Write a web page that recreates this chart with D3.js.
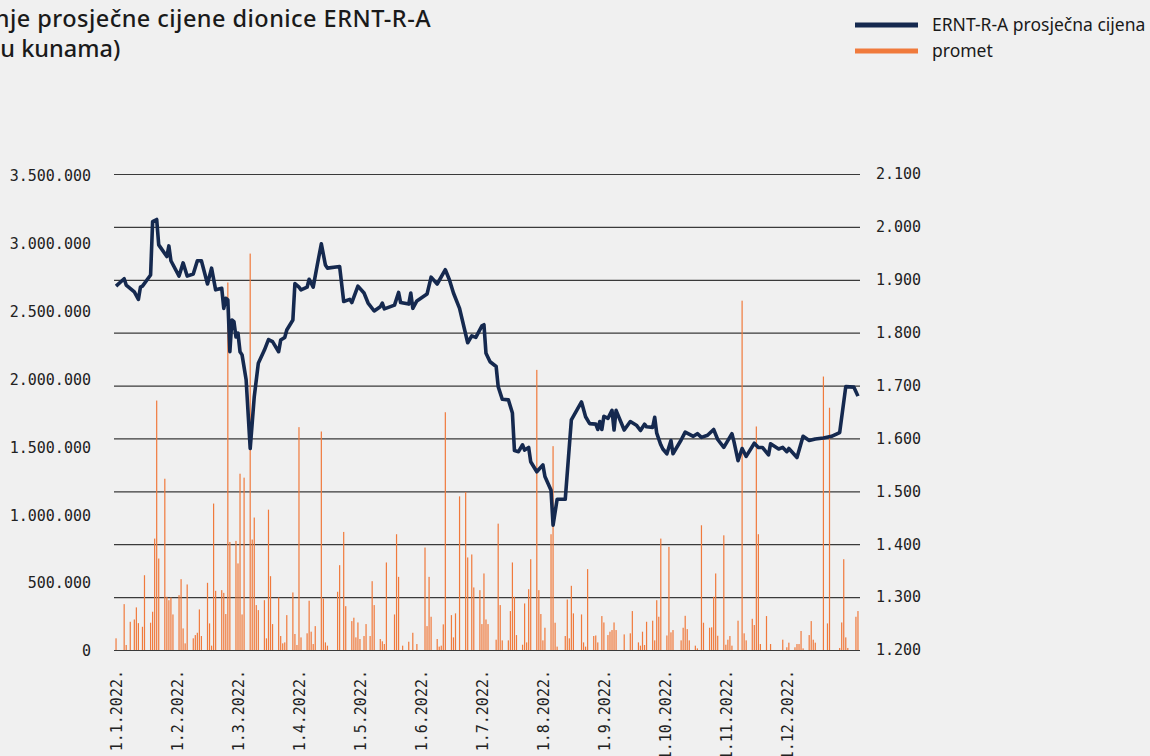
<!DOCTYPE html>
<html>
<head>
<meta charset="utf-8">
<script src="https://cdn.jsdelivr.net/npm/d3@7"></script>
<style>
  body { margin: 0; background: #f0f0f0; }
  svg { display: block; }
</style>
</head>
<body>
<div id="chart"></div>
<script>
// day index: 0 = 1.1.2022.
var monthLabels = ["1.1.2022.", "1.2.2022.", "1.3.2022.", "1.4.2022.", "1.5.2022.", "1.6.2022.",
  "1.7.2022.", "1.8.2022.", "1.9.2022.", "1.10.2022.", "1.11.2022.", "1.12.2022."];
var leftTicks = [0, 500000, 1000000, 1500000, 2000000, 2500000, 3000000, 3500000];
var rightTicks = [1200, 1300, 1400, 1500, 1600, 1700, 1800, 1900, 2000, 2100];

// ERNT-R-A prosjecna cijena
var priceDays = [0, 4, 5, 9, 11, 12, 13, 17, 18, 20, 21, 25, 26, 27, 31, 33, 35, 38, 40, 42, 45, 47, 49, 52, 53, 54, 55, 56, 57, 58, 59, 60, 61, 62, 64, 66, 68, 70, 73, 75, 77, 80, 81, 83, 84, 87, 88, 90, 91, 94, 95, 97, 99, 101, 103, 104, 110, 112, 115, 116, 119, 122, 124, 127, 130, 131, 132, 137, 139, 140, 144, 145, 146, 148, 153, 155, 158, 162, 164, 166, 169, 173, 175, 177, 180, 181, 182, 184, 187, 188, 190, 193, 195, 196, 198, 200, 201, 203, 204, 207, 210, 211, 214, 215, 217, 221, 224, 229, 231, 233, 236, 237, 238, 239, 240, 242, 244, 245, 246, 250, 253, 256, 258, 260, 261, 264, 265, 266, 268, 269, 271, 273, 274, 278, 280, 284, 286, 288, 291, 294, 296, 299, 303, 304, 306, 308, 310, 314, 316, 318, 321, 322, 326, 328, 330, 331, 335, 338, 341, 344, 348, 352, 356, 359, 363, 365];
var priceValues = [1888, 1902, 1890, 1877, 1863, 1886, 1888, 1909, 2010, 2014, 1966, 1944, 1964, 1936, 1907, 1932, 1907, 1911, 1936, 1936, 1892, 1922, 1881, 1884, 1846, 1865, 1862, 1764, 1824, 1821, 1792, 1799, 1764, 1758, 1711, 1581, 1679, 1742, 1767, 1787, 1783, 1764, 1786, 1791, 1805, 1824, 1893, 1886, 1881, 1886, 1901, 1886, 1928, 1968, 1928, 1922, 1925, 1859, 1863, 1857, 1888, 1875, 1856, 1841, 1849, 1856, 1845, 1852, 1876, 1857, 1854, 1875, 1846, 1860, 1873, 1905, 1892, 1919, 1900, 1875, 1846, 1781, 1794, 1791, 1813, 1815, 1761, 1745, 1736, 1698, 1674, 1673, 1648, 1577, 1575, 1588, 1578, 1583, 1556, 1537, 1550, 1528, 1502, 1436, 1485, 1485, 1635, 1669, 1641, 1628, 1627, 1617, 1632, 1617, 1642, 1638, 1653, 1616, 1653, 1616, 1632, 1625, 1615, 1627, 1622, 1621, 1640, 1610, 1588, 1580, 1571, 1596, 1571, 1597, 1612, 1604, 1609, 1602, 1606, 1617, 1598, 1583, 1609, 1594, 1558, 1581, 1566, 1591, 1583, 1583, 1569, 1590, 1580, 1583, 1575, 1581, 1564, 1604, 1596, 1599, 1601, 1604, 1611, 1698, 1697, 1680];

// promet (kn)
var turnoverDays = [0, 4, 5, 7, 9, 10, 11, 13, 14, 17, 18, 19, 20, 21, 24, 25, 26, 27, 28, 31, 32, 33, 34, 35, 38, 39, 40, 41, 42, 45, 46, 47, 48, 49, 52, 53, 54, 55, 56, 59, 60, 61, 62, 63, 66, 67, 68, 69, 70, 73, 74, 75, 76, 77, 80, 81, 82, 83, 84, 87, 88, 89, 90, 91, 94, 95, 96, 97, 98, 101, 102, 103, 104, 109, 110, 112, 113, 116, 117, 118, 119, 120, 122, 123, 125, 126, 127, 130, 131, 132, 133, 137, 138, 139, 141, 144, 146, 148, 152, 153, 154, 155, 158, 159, 160, 161, 162, 165, 166, 167, 169, 172, 173, 175, 176, 179, 180, 181, 182, 183, 187, 188, 189, 190, 193, 194, 195, 196, 197, 200, 201, 202, 203, 204, 207, 208, 209, 210, 211, 214, 215, 216, 217, 221, 222, 223, 224, 225, 229, 230, 231, 232, 235, 236, 237, 239, 240, 242, 243, 244, 245, 246, 250, 253, 254, 257, 258, 259, 260, 261, 264, 265, 266, 267, 268, 271, 272, 273, 274, 278, 279, 280, 281, 282, 285, 286, 288, 289, 292, 293, 294, 295, 296, 299, 300, 301, 302, 303, 306, 308, 309, 310, 313, 314, 315, 316, 317, 320, 322, 328, 330, 331, 334, 335, 336, 337, 338, 341, 342, 343, 344, 348, 350, 351, 356, 357, 358, 359, 360, 364, 365];
var turnoverValues = [86000, 338000, 37000, 208000, 225000, 314000, 198000, 171000, 551000, 201000, 282000, 821000, 1838000, 674000, 1262000, 392000, 367000, 387000, 262000, 404000, 522000, 159000, 49000, 483000, 86000, 110000, 127000, 299000, 103000, 495000, 196000, 32000, 1079000, 436000, 441000, 421000, 265000, 2708000, 796000, 804000, 638000, 1299000, 262000, 1270000, 2921000, 814000, 976000, 331000, 294000, 367000, 86000, 1034000, 544000, 191000, 387000, 103000, 49000, 56000, 257000, 424000, 118000, 37000, 1642000, 93000, 123000, 363000, 135000, 44000, 176000, 1610000, 380000, 56000, 32000, 429000, 625000, 870000, 323000, 213000, 238000, 93000, 203000, 81000, 103000, 191000, 103000, 507000, 331000, 81000, 64000, 44000, 645000, 262000, 853000, 539000, 32000, 61000, 127000, 44000, 755000, 176000, 539000, 245000, 81000, 25000, 32000, 189000, 1752000, 257000, 93000, 270000, 1132000, 1164000, 682000, 704000, 461000, 441000, 191000, 564000, 225000, 191000, 76000, 931000, 331000, 71000, 71000, 287000, 645000, 392000, 110000, 39000, 343000, 56000, 448000, 669000, 2064000, 441000, 265000, 71000, 164000, 853000, 1502000, 201000, 25000, 103000, 372000, 86000, 473000, 270000, 262000, 56000, 25000, 596000, 103000, 107000, 56000, 250000, 203000, 110000, 135000, 147000, 203000, 147000, 115000, 123000, 287000, 56000, 32000, 135000, 37000, 208000, 216000, 71000, 367000, 245000, 821000, 107000, 760000, 130000, 147000, 71000, 164000, 252000, 154000, 71000, 32000, 12000, 919000, 201000, 164000, 167000, 392000, 564000, 105000, 845000, 39000, 76000, 103000, 32000, 216000, 2574000, 123000, 71000, 230000, 184000, 1647000, 853000, 44000, 250000, 44000, 76000, 20000, 54000, 20000, 44000, 44000, 140000, 12000, 110000, 213000, 76000, 54000, 2015000, 196000, 1785000, 15000, 203000, 669000, 93000, 15000, 245000, 287000];

var W = 1150, H = 756;
var navy = "#15294f", orange = "#f07a3c";

var svg = d3.select("#chart").append("svg")
  .attr("width", W).attr("height", H)
  .style("background", "#f0f0f0");

var x = d3.scaleLinear().domain([-1, 366]).range([114, 860]);
var yL = d3.scaleLinear().domain([0, 3500000]).range([650, 175]);
var yR = d3.scaleLinear().domain([1200, 2100]).range([650, 174]);

var hr = d3.formatLocale({decimal: ",", thousands: ".", grouping: [3], currency: ["", " kn"]});
var fmt = hr.format(",d");
var tickFont = "'DejaVu Sans Mono', monospace";

// right axis + gridlines
var gR = svg.append("g")
  .attr("transform", "translate(860,0)")
  .call(d3.axisRight(yR).tickValues(rightTicks).tickFormat(fmt)
    .tickSizeInner(-746).tickSizeOuter(0).tickPadding(16));
gR.select(".domain").remove();
gR.selectAll("line").attr("stroke", "#3a3a3a").attr("stroke-width", 1.2);
gR.selectAll("text").style("font-family", tickFont).style("font-size", "15px").attr("fill", "#222");

// left axis
var gL = svg.append("g")
  .attr("transform", "translate(114,1)")
  .call(d3.axisLeft(yL).tickValues(leftTicks).tickFormat(fmt).tickSize(0).tickPadding(23));
gL.select(".domain").remove();
gL.selectAll("text").style("font-family", tickFont).style("font-size", "15px").attr("fill", "#222");

// x axis
var gX = svg.append("g")
  .attr("transform", "translate(0,650)")
  .call(d3.axisBottom(x).tickValues(d3.range(0, 331, 30))
    .tickFormat(function(d) { return monthLabels[d / 30]; }).tickSize(0));
gX.select(".domain").remove();
gX.selectAll("text")
  .attr("transform", "rotate(-90)")
  .attr("x", -20).attr("y", 0).attr("dy", "0.35em")
  .style("text-anchor", "end")
  .style("font-family", tickFont).style("font-size", "15px").attr("fill", "#222");

// turnover bars
var bars = turnoverDays.map(function(d, i) { return {day: d, v: turnoverValues[i]}; });
svg.append("g").selectAll("rect")
  .data(bars).enter().append("rect")
  .attr("x", function(d) { return x(d.day) - 0.6; })
  .attr("width", 1.2)
  .attr("y", function(d) { return yR(1200) - (yL(0) - yL(d.v)); })
  .attr("height", function(d) { return yL(0) - yL(d.v); })
  .attr("fill", orange);

// price line
var pts = priceDays.map(function(d, i) { return {day: d, v: priceValues[i]}; });
svg.append("path")
  .datum(pts)
  .attr("fill", "none")
  .attr("stroke", navy)
  .attr("stroke-width", 3.6)
  .attr("stroke-linejoin", "round")
  .attr("d", d3.line().x(function(d) { return x(d.day); }).y(function(d) { return yR(d.v); }));

// title (cut at the left edge as in the source)
var titleFont = "'Noto Sans', sans-serif";
svg.append("text")
  .attr("x", 431).attr("y", 27)
  .attr("text-anchor", "end")
  .style("font-family", titleFont).style("font-size", "23.5px").style("font-weight", 500)
  .style("letter-spacing", "0.45px")
  .attr("fill", "#1a1a1a")
  .text("Kretanje prosječne cijene dionice ERNT-R-A");
svg.append("text")
  .attr("x", -7).attr("y", 57)
  .style("font-family", titleFont).style("font-size", "23.5px").style("font-weight", 500)
  .attr("fill", "#1a1a1a")
  .text("(u kunama)");

// legend
var legend = [{name: "ERNT-R-A prosječna cijena", color: navy}, {name: "promet", color: orange}];
var lg = svg.append("g").selectAll("g").data(legend).enter().append("g")
  .attr("transform", function(d, i) { return "translate(855," + (25 + i * 26) + ")"; });
lg.append("line").attr("x1", 0).attr("x2", 63)
  .attr("stroke", function(d) { return d.color; }).attr("stroke-width", 5);
lg.append("text").attr("x", 77).attr("dy", "0.35em")
  .style("font-family", titleFont).style("font-size", "17.5px")
  .attr("fill", "#1a1a1a")
  .text(function(d) { return d.name; });
</script>
</body>
</html>
